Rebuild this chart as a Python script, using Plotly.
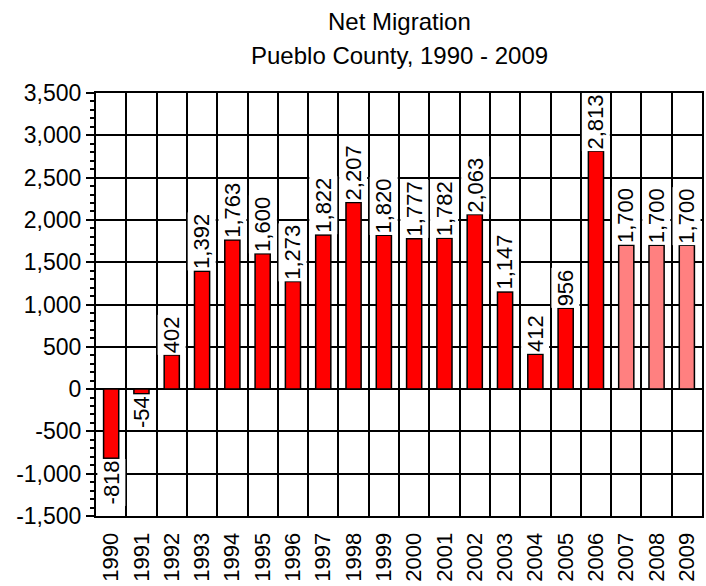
import plotly.graph_objects as go

# Net migration, Pueblo County
years = [str(y) for y in range(1990, 2010)]
net_migration = [-818, -54, 402, 1392, 1763, 1600, 1273, 1822, 2207, 1820,
                 1777, 1782, 2063, 1147, 412, 956, 2813, 1700, 1700, 1700]
# 2007-2009 are estimates, drawn in a lighter shade
is_estimate = [False] * 17 + [True] * 3

y_ticks = list(range(-1500, 3501, 500))
y_tick_text = [f"{v:,}" for v in y_ticks]

title_lines = ["Net Migration", "Pueblo County, 1990 - 2009"]

FONT = "Arial, Liberation Sans, sans-serif"
bar_colors = ["#FF8080" if e else "#FF0000" for e in is_estimate]

fig = go.Figure(
    go.Bar(
        x=years,
        y=net_migration,
        width=0.5,
        marker=dict(color=bar_colors, line=dict(color="black", width=1.5)),
        hoverinfo="x+y",
    )
)

# value labels, rotated, sitting on the end of each bar
for i, v in enumerate(net_migration):
    fig.add_annotation(
        x=i,
        y=v,
        xref="x",
        yref="y",
        text=f"{v:,}",
        textangle=-90,
        showarrow=False,
        xanchor="center",
        yanchor="bottom" if v >= 0 else "top",
        bgcolor="white",
        borderpad=1,
        font=dict(family=FONT, size=22, color="black"),
    )

# two-line title, one annotation per line
for line, shift in zip(title_lines, [56, 22]):
    fig.add_annotation(
        x=0.5,
        y=1,
        xref="paper",
        yref="paper",
        text=line,
        showarrow=False,
        xanchor="center",
        yanchor="bottom",
        yshift=shift,
        font=dict(family=FONT, size=24, color="black"),
    )

fig.update_layout(
    width=706,
    height=586,
    margin=dict(l=96, r=4, t=93, b=70),
    paper_bgcolor="white",
    plot_bgcolor="white",
    showlegend=False,
    font=dict(family=FONT, size=22, color="black"),
    bargap=0.5,
)

fig.update_xaxes(
    type="category",
    range=[-0.5, len(years) - 0.5],
    automargin=False,
    tickson="boundaries",
    showgrid=True,
    gridcolor="black",
    gridwidth=1.5,
    tickangle=-90,
    ticks="",
    ticklabelstandoff=6,
    showline=True,
    linecolor="black",
    linewidth=2,
    mirror=True,
    tickfont=dict(family=FONT, size=22, color="black"),
)

fig.update_yaxes(
    range=[-1500, 3500],
    automargin=False,
    tickvals=y_ticks,
    ticktext=y_tick_text,
    showgrid=True,
    gridcolor="black",
    gridwidth=1.5,
    zeroline=True,
    zerolinecolor="black",
    zerolinewidth=1.5,
    ticks="outside",
    ticklen=8,
    tickwidth=1.5,
    tickcolor="black",
    minor=dict(dtick=100, ticks="outside", ticklen=4, tickwidth=1.5,
               tickcolor="black", showgrid=False),
    showline=True,
    linecolor="black",
    linewidth=2,
    mirror=True,
    tickfont=dict(family=FONT, size=23, color="black"),
)

fig.write_html("out.html")
